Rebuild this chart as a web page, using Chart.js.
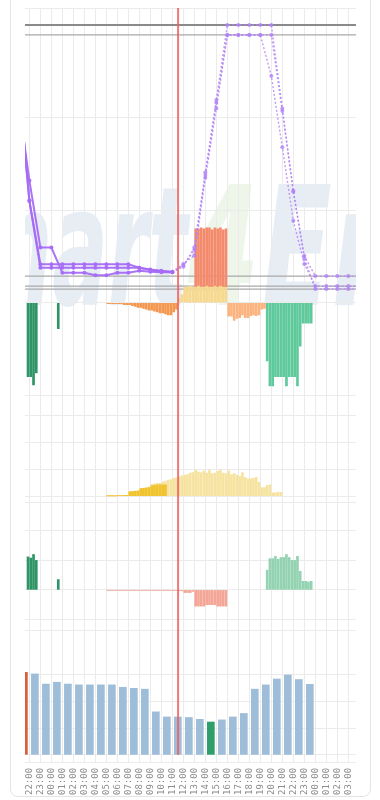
<!DOCTYPE html>
<html><head><meta charset="utf-8">
<script src="https://cdn.jsdelivr.net/npm/chart.js@4.4.1/dist/chart.umd.min.js"></script>
<style>
html,body{margin:0;padding:0;background:#fff;width:380px;height:800px;overflow:hidden}
#card{position:absolute;left:10px;top:-10px;width:361px;height:807px;border:1px solid #e4e4e4;border-radius:8px;box-sizing:border-box}
#wrap{position:absolute;left:0;top:0;width:380px;height:805px}
</style></head><body>
<div id="card"></div>
<div id="wrap"><canvas id="c" width="380" height="805"></canvas></div>
<script>
// ---- time axis (hours counted from 00:00 of the first day: 22 = 22:00, 24 = 00:00 next day)
const viewStart = 21.6, viewEnd = 51.7;
const nowHour = 35.52;          // 11:31
const socMeasuredUntil = 35;    // last measured SoC point (11:00)
const hourTicks = [22,23,24,25,26,27,28,29,30,31,32,33,34,35,36,37,38,39,40,41,42,43,44,45,46,47,48,49,50,51];
const tickLabels = ['22:00','23:00','00:00','01:00','02:00','03:00','04:00','05:00','06:00','07:00','08:00','09:00','10:00','11:00','12:00','13:00','14:00','15:00','16:00','17:00','18:00','19:00','20:00','21:00','22:00','23:00','00:00','01:00','02:00','03:00'];

// ---- panel 1: battery state of charge (%), hourly
const socHours = [21,22,23,24,25,26,27,28,29,30,31,32,33,34,35,36,37,38,39,40,41,42,43,44,45,46,47,48,49,50,51,52];
const socBattery1 = [73,44,19.9,19.9,10.8,10.8,10.8,9.9,9.9,10.8,10.8,11.5,11.2,11,11, 13,20,47,73,100,100,100,100,100, 69.9,40.3,16.9,9.6,9.6,9.6,9.6,9.6];
const socBattery2 = [80,36.7,13.9,13.9,13.9,13.9,13.9,13.9,13.9,13.9,13.9,12.6,12,11.5,11.2, 14,17,45,70,96.4,96.4,96.4,96.4,81.6, 56,29.5,14,6.0,6.0,6.0,6.0,6.0];
const socBattery3 = [80,36.7,12.6,12.6,12.6,12.6,12.6,12.6,12.6,12.6,12.6,12.6,11.8,11.3,11.0, 13.5,19,46,72,96.4,96.4,96.4,96.4,96.4, 69,40,16,5.0,5.0,5.0,5.0,5.0];
const socLimits = [100, 96.4, 9.6, 6.0, 4.9];

// ---- panel 1: battery power (kW), 15-minute slots
const battPvStart = 35.5;
const battPv = [0.05,0.09,0.17,0.17,0.18,0.17,0.17,0.18,0.17,0.17,0.18,0.17,0.17,0.18,0.17,0.18,0.17,0.17];
const battGridStart = 37;
const battGrid = [0.63,0.62,0.64,0.63,0.63,0.64,0.62,0.63,0.63,0.63,0.62,0.63];
const battUseMeasuredStart = 29;
const battUseMeasured = [-0.01,-0.01,-0.01,-0.01,-0.01,-0.01,-0.02,-0.02,-0.02,-0.03,-0.04,-0.05,-0.05,-0.06,-0.07,-0.08,-0.08,-0.09,-0.10,-0.11,-0.11,-0.12,-0.13,-0.13,-0.10,-0.07];
const battUseForecastStart = 40;
const battUseForecast = [-0.145,-0.145,-0.19,-0.17,-0.16,-0.13,-0.16,-0.16,-0.14,-0.13,-0.14,-0.13,-0.07,-0.06];
const battExportForecastStart = 43.5;
const battExportForecast = [-0.63,-0.9,-0.9,-0.8,-0.8,-0.8,-0.8,-0.9,-0.8,-0.8,-0.8,-0.9,-0.47,-0.22,-0.22,-0.22,-0.22];
const battExportMeasuredStart = 21.75;
const battExportMeasured = [-0.8,-0.8,-0.89,-0.76,null,null,null,null,null,null,null,-0.28];

// ---- panel 2: PV production (kW), 15-minute slots
const pvStart = 29;
const pvForecast = [0.005,0.01,0.01,0.01, 0.02,0.02,0.03,0.03, 0.17,0.18,0.19,0.20, 0.28,0.30,0.32,0.34, 0.44,0.46,0.48,0.48, 0.52,0.56,0.60,0.62, 0.66,0.68,0.72,0.76, 0.78,0.80,0.86,0.88, 0.96,0.90,0.88,0.94, 0.86,0.96,0.84,0.86, 0.92,0.98,0.86,0.84, 0.94,0.80,0.84,0.78, 0.74,0.88,0.70,0.64, 0.64,0.66,0.70,0.52, 0.32,0.32,0.40,0.42, 0.12,0.12,0.14,0.14];
const pvMeasured = [0.005,0.01,0.01,0.01, 0.02,0.02,0.03,0.03, 0.16,0.17,0.18,0.19, 0.28,0.29,0.30,0.32, 0.38,0.40,0.42,0.42, 0.42,0.42];

// ---- panel 3: grid exchange (kW), 15-minute slots
const gridExportMeasuredStart = 21.75;
const gridExportMeasured = [1.12,1.08,1.2,1.0,null,null,null,null,null,null,null,0.35];
const gridImportMeasuredStart = 29;
const gridImportMeasured = [-0.01,-0.01,-0.01,-0.01,-0.01,-0.01,-0.01,-0.01,-0.01,-0.01,-0.01,-0.01,-0.02,-0.01,-0.01,-0.01,-0.02,-0.01,-0.01,-0.02,-0.01,-0.01,-0.01,-0.02,-0.01,-0.02];
const gridImportForecastStart = 35.5;
const gridImportForecast = [-0.03,-0.03,-0.09,-0.09,-0.09,-0.05,-0.55,-0.55,-0.55,-0.55,-0.5,-0.5,-0.5,-0.5,-0.55,-0.55,-0.55,-0.55];
const gridExportForecastStart = 43.5;
const gridExportForecast = [0.67,1.06,1.06,1.14,1.04,1.1,1.1,1.2,1.1,1.0,1.0,1.14,0.63,0.29,0.29,0.27,0.29];

// ---- panel 4: hourly price (ct/kWh)
const priceStart = 21;
const prices = [30.9,30.3,26.5,27.2,26.5,26.2,26.2,26.2,26.2,25.3,24.9,24.6,16.1,14.2,14.2,14.0,13.3,12.3,13.1,14.2,15.5,24.6,26.2,28.4,29.9,28.2,26.4];

// ---- panel tick values (grid lines)
const ticksA = [-1,0,1,2,3,3.19];
const ticksB = [-0.25,0,1,2,3,3.75];
const ticksC = [-1.39,-1,0,1,2,2.95];
const ticksD = [-3,0,10,20,30,46.4];

function slots(start, values, step){
  const out = [];
  values.forEach((v,i)=>{ if(v!==null) out.push({x:start+step*(i+0.5), y:v}); });
  return out;
}
const Q = 0.25;
const pts = (hours, vals) => hours.map((h,i)=>({x:h,y:vals[i]}));
const minPrice = Math.min(...prices);

const socColor = 'rgba(166,108,245,0.95)';
const socFuture = 'rgba(178,130,246,0.8)';
function socDs(vals){
  return {type:'line', yAxisID:'soc', data:pts(socHours, vals), order:0,
    borderColor:socColor, borderWidth:2, tension:0,
    pointRadius:2, pointHoverRadius:2, pointBorderWidth:0,
    pointBackgroundColor: c => (c.raw && c.raw.x > socMeasuredUntil) ? socFuture : socColor,
    segment:{
      borderDash: c => c.p0.parsed.x >= socMeasuredUntil ? [2,2] : undefined,
      borderWidth: c => c.p0.parsed.x >= socMeasuredUntil ? 1.4 : 2,
      borderColor: c => c.p0.parsed.x >= socMeasuredUntil ? socFuture : socColor
    }};
}
function bar(axis, data, color, order, thick){
  return {type:'bar', yAxisID:axis, data, backgroundColor:color, order, grouped:false, barThickness:thick||2, borderWidth:0};
}

const gridCol = '#ebebeb';
function panelAxis(weight, sw, min, max, tickVals, stacked){
  return {type:'linear', position:'left', stack:'panels', stackWeight:sw, weight, min, max, stacked:!!stacked,
    afterBuildTicks: a => { a.ticks = tickVals.map(v=>({value:v})); },
    ticks:{display:false}, grid:{color:gridCol, drawTicks:false, lineWidth:1}, border:{display:false}};
}

const overlay = {
  id:'overlay',
  beforeDraw(chart){
    const {ctx, chartArea:a} = chart;
    ctx.save();
    ctx.beginPath(); ctx.rect(a.left, a.top, a.right-a.left, a.bottom-a.top); ctx.clip();
    ctx.font = 'italic bold 165px "DejaVu Sans"';
    ctx.textBaseline = 'alphabetic';
    // "Smart" compressed, ending at the lightning "4"
    ctx.save();
    ctx.translate(188, 305); ctx.scale(0.5, 1);
    ctx.textAlign = 'right';
    ctx.fillStyle = 'rgba(208,220,235,0.5)';
    ctx.fillText('Smart', 0, 0);
    ctx.restore();
    ctx.save();
    ctx.translate(188, 305); ctx.scale(0.62, 1);
    ctx.textAlign = 'left';
    ctx.fillStyle = 'rgba(214,236,206,0.45)';
    ctx.fillText('4', 0, 0);
    ctx.restore();
    ctx.save();
    ctx.translate(262, 305); ctx.scale(0.62, 1);
    ctx.textAlign = 'left';
    ctx.fillStyle = 'rgba(208,220,235,0.5)';
    ctx.fillText('En', 0, 0);
    ctx.restore();
    ctx.restore();
  },
  beforeDatasetsDraw(chart){
    const {ctx, chartArea:a, scales} = chart;
    ctx.save();
    socLimits.forEach((v,i)=>{
      const y = scales.soc.getPixelForValue(v);
      ctx.strokeStyle = i===0 ? '#8a8a8a' : '#a9a9a9';
      ctx.lineWidth = i===0 ? 2 : 1.2;
      ctx.beginPath(); ctx.moveTo(a.left, y); ctx.lineTo(a.right, y); ctx.stroke();
    });
    ctx.restore();
  },
  afterDatasetsDraw(chart){
    const {ctx, chartArea:a, scales} = chart;
    const x = scales.x.getPixelForValue(nowHour);
    ctx.save();
    ctx.strokeStyle = 'rgba(238,96,96,0.85)';
    ctx.lineWidth = 2;
    ctx.beginPath(); ctx.moveTo(x, a.top); ctx.lineTo(x, scales.yD.getPixelForValue(0)); ctx.stroke();
    ctx.restore();
  }
};

new Chart(document.getElementById('c'), {
  data:{datasets:[
    socDs(socBattery1), socDs(socBattery2), socDs(socBattery3),
    bar('yA', slots(battPvStart, battPv, Q), '#f6d98e', 2),
    bar('yA', slots(battGridStart, battGrid, Q), '#f4896b', 3),
    bar('yA', slots(battUseMeasuredStart, battUseMeasured, Q), '#f4974f', 2),
    bar('yA', slots(battUseForecastStart, battUseForecast, Q), '#fcb37e', 2),
    bar('yA', slots(battExportForecastStart, battExportForecast, Q), '#5ec99a', 2),
    bar('yA', slots(battExportMeasuredStart, battExportMeasured, Q), '#2e9466', 2),
    bar('yB', slots(pvStart, pvMeasured, Q), '#f0c22c', 1),
    bar('yB', slots(pvStart, pvForecast, Q), '#f7e3a0', 2),
    bar('yC', slots(gridExportMeasuredStart, gridExportMeasured, Q), '#2e9466', 1),
    bar('yC', slots(gridImportMeasuredStart, gridImportMeasured, Q), '#e9a090', 1),
    bar('yC', slots(gridImportForecastStart, gridImportForecast, Q), '#f4a596', 1),
    bar('yC', slots(gridExportForecastStart, gridExportForecast, Q), '#93d3b1', 1),
    {type:'bar', yAxisID:'yD', data:slots(priceStart, prices, 1), order:1, grouped:false, barThickness:7, borderWidth:0,
      backgroundColor: c => { const p = c.raw; if(!p) return '#9dbdd8'; if(p.x < hourTicks[0]) return '#d8603c'; return p.y===minPrice ? '#2e9e6a' : '#9dbdd8'; }}
  ]},
  options:{
    responsive:false, animation:false, events:[],
    layout:{padding:{left:25, right:24, top:8, bottom:5}},
    plugins:{legend:{display:false}, tooltip:{enabled:false}},
    scales:{
      x:{type:'linear', min:viewStart, max:viewEnd, offset:false,
        afterBuildTicks: a => { a.ticks = hourTicks.map(v=>({value:v})); },
        ticks:{autoSkip:false, maxRotation:90, minRotation:90, padding:5, color:'#8c8c8c',
          font:{family:'"DejaVu Sans Mono", monospace', size:9}, callback:(v,i)=>tickLabels[i]},
        grid:{color:gridCol, drawTicks:false, offset:false}, border:{display:false}},
      yA: panelAxis(4, 385.7, -1, 3.19, ticksA, true),
      yB: panelAxis(3, 107.3, -0.25, 3.75, ticksB),
      yC: panelAxis(2, 127.5, -1.39, 2.95, ticksC),
      yD: panelAxis(1, 131.5, -3, 46.4, ticksD),
      soc:{type:'linear', position:'right', display:false, min:-165.6, max:106.1}
    }
  },
  plugins:[overlay]
});
</script>
</body></html>
